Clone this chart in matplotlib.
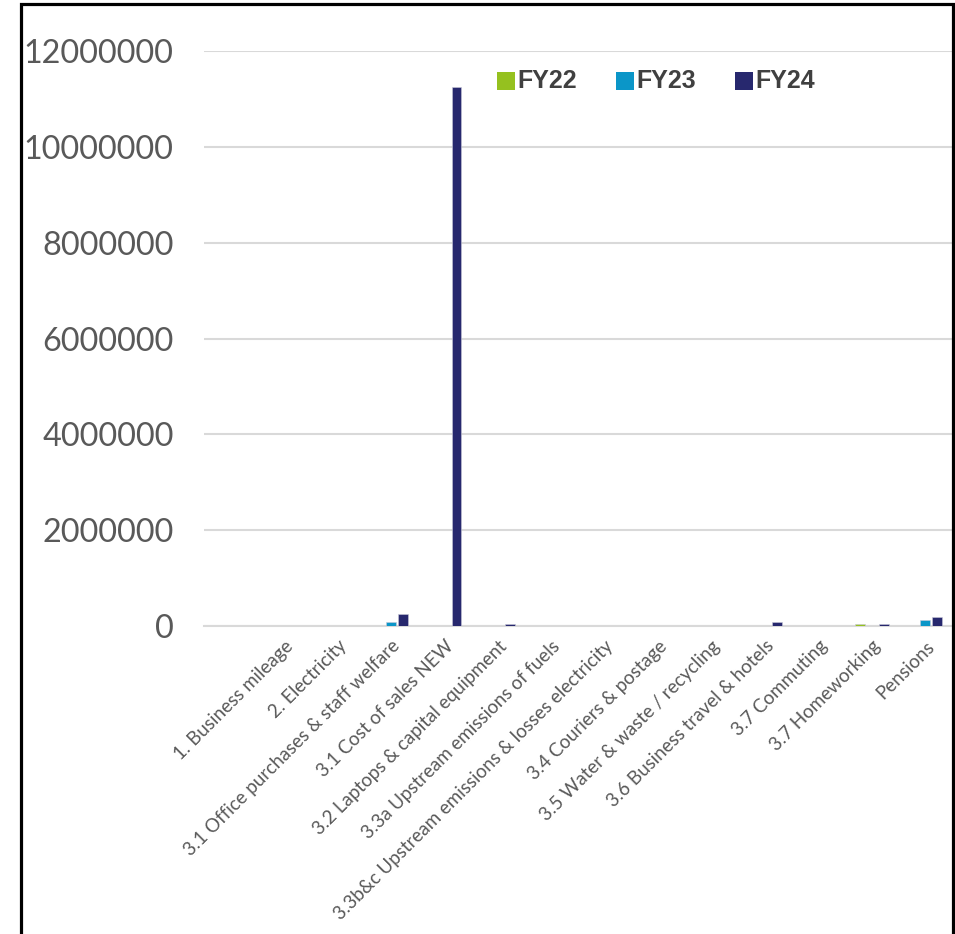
import matplotlib
matplotlib.use('Agg')
import matplotlib.pyplot as plt
import matplotlib.patches as mpatches
import numpy as np

# ── Data ──────────────────────────────────────────────────────────────
categories = ['1. Business mileage', '2. Electricity',
              '3.1 Office purchases & staff welfare', '3.1 Cost of sales NEW',
              '3.2 Laptops & capital equipment', '3.3a Upstream emissions of fuels',
              '3.3b&c Upstream emissions & losses electricity', '3.4 Couriers & postage',
              '3.5 Water & waste / recycling', '3.6 Business travel & hotels',
              '3.7 Commuting', '3.7 Homeworking', 'Pensions']
fy22 = [4000, 2000, 10000, 0, 8000, 1000, 1000, 1000, 500, 12000, 10000, 55000, 15000]
fy23 = [5000, 3000, 85000, 0, 15000, 1500, 1500, 1000, 500, 15000, 10000, 15000, 130000]
fy24 = [6000, 3000, 250000, 11250000, 50000, 2000, 2000, 1500, 800, 80000, 12000, 50000, 190000]
series = {'FY22': fy22, 'FY23': fy23, 'FY24': fy24}
yticks = [0, 2000000, 4000000, 6000000, 8000000, 10000000, 12000000]

COLORS = {'FY22': '#95C11F', 'FY23': '#0B96C8', 'FY24': '#27286E'}
W, H = 955, 934

fig = plt.figure(figsize=(W / 100, H / 100), dpi=100)
ax = fig.add_axes([204 / W, 1 - 626.3 / H, (952 - 204) / W, (626.3 - 50.9) / H])

x = np.arange(1, len(categories) + 1)
offs = {'FY22': -0.225, 'FY23': 0.0, 'FY24': 0.225}
for name, vals in series.items():
    ax.bar(x + offs[name], vals, width=0.18, color=COLORS[name],
           edgecolor='#C8C8D8', linewidth=0.4, label=name, zorder=3)

ax.set_xlim(-0.5, 13.5)
ax.set_ylim(0, 12000000)
ax.set_yticks(yticks)
ax.set_yticklabels([str(v) for v in yticks], fontfamily='Lato', fontsize=23.3, color='#595959')
ax.tick_params(axis='y', length=0, pad=22)
ax.grid(axis='y', color='#D9D9D9', linewidth=1.5, zorder=0)
ax.set_axisbelow(True)

ax.set_xticks(x)
ax.set_xticklabels(categories, rotation=45, ha='right', va='top', rotation_mode='anchor',
                   fontfamily='Lato', fontsize=13.5, color='#595959')
ax.tick_params(axis='x', length=0, pad=8)

for s in ['left', 'right', 'top']:
    ax.spines[s].set_visible(False)
ax.spines['bottom'].set_color('#D9D9D9')
ax.spines['bottom'].set_linewidth(1.5)

# legend drawn by hand: square + bold label
leg_x = [497, 616, 735]
for lx, name in zip(leg_x, series):
    fig.patches.append(mpatches.Rectangle((lx / W, 1 - 90 / H), 18 / W, 18 / H,
                                          transform=fig.transFigure,
                                          facecolor=COLORS[name], edgecolor='none'))
    fig.text((lx + 20) / W, 1 - 81 / H, name, ha='left', va='center',
             fontfamily='Liberation Sans', fontweight='bold', fontsize=18, color='#404040')

# outer black frame
fig.patches.append(mpatches.Rectangle((21 / W, -0.05), (953 - 21) / W, 1.05 - 4 / H,
                                      transform=fig.transFigure, fill=False,
                                      edgecolor='black', linewidth=2.3, clip_on=False))

plt.savefig('out.png', dpi=100, facecolor='white')
plt.close()
